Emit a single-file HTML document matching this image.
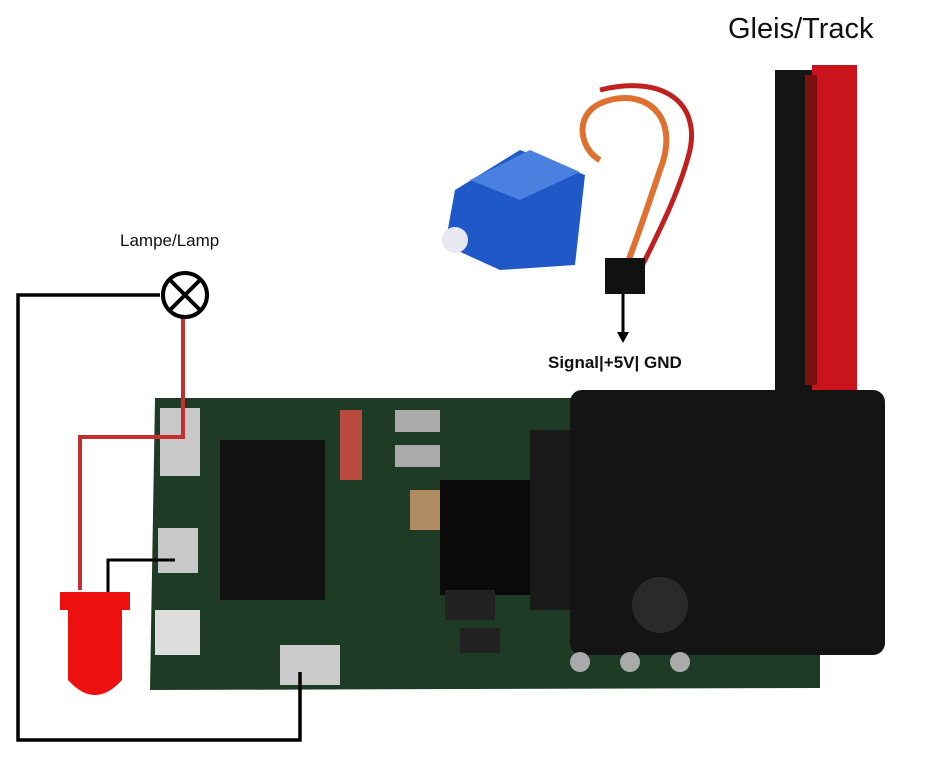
<!DOCTYPE html>
<html><head><meta charset="utf-8"><style>html,body{margin:0;padding:0;background:#fff}svg{display:block}</style></head>
<body>
<svg width="934" height="758" viewBox="0 0 934 758" xmlns="http://www.w3.org/2000/svg">
<rect width="934" height="758" fill="#fff"/>
<text x="728" y="38" font-family="Liberation Sans, sans-serif" font-size="29" fill="#111">Gleis/Track</text>
<text x="120" y="246" font-family="Liberation Sans, sans-serif" font-size="17" fill="#111">Lampe/Lamp</text>
<text x="548" y="368" font-family="Liberation Sans, sans-serif" font-size="17" font-weight="bold" fill="#111">Signal|+5V| GND</text>
<!-- cable -->
<rect x="775" y="70" width="45" height="320" fill="#151515"/>
<rect x="812" y="65" width="45" height="330" fill="#c8141a"/>
<rect x="805" y="75" width="12" height="310" fill="#7a1010"/>
<!-- servo wires -->
<path d="M625 270 C640 230 650 200 660 170 C680 120 650 90 610 100 C570 110 580 150 600 160" stroke="#e07030" stroke-width="6" fill="none"/>
<path d="M640 270 C660 230 680 190 690 150 C700 100 660 75 600 90" stroke="#c02020" stroke-width="5" fill="none"/>
<!-- servo -->
<path d="M455 190 L520 150 L585 175 L575 265 L500 270 L445 245 Z" fill="#2058c8"/>
<path d="M470 180 L530 150 L580 172 L520 200 Z" fill="#4a80e0"/>
<circle cx="455" cy="240" r="13" fill="#e8e8f0"/>
<rect x="605" y="258" width="40" height="36" fill="#111"/>
<line x1="623" y1="294" x2="623" y2="335" stroke="#000" stroke-width="3"/>
<path d="M617 332 L623 343 L629 332 Z" fill="#000"/>
<!-- PCB -->
<path d="M155 398 L585 398 L600 405 L820 400 L820 688 L150 690 Z" fill="#1e3b25"/>
<rect x="160" y="408" width="40" height="68" fill="#c8c8c8"/>
<rect x="158" y="528" width="40" height="45" fill="#c8c8c8"/>
<rect x="155" y="610" width="45" height="45" fill="#ddd"/>
<rect x="220" y="440" width="105" height="160" fill="#111"/>
<rect x="340" y="410" width="22" height="70" fill="#b84a40"/>
<rect x="395" y="410" width="45" height="22" fill="#aaa"/>
<rect x="395" y="445" width="45" height="22" fill="#aaa"/>
<rect x="410" y="490" width="35" height="40" fill="#b08a60"/>
<rect x="440" y="480" width="90" height="115" fill="#0a0a0a"/>
<rect x="445" y="590" width="50" height="30" fill="#222"/>
<rect x="460" y="628" width="40" height="25" fill="#222"/>
<rect x="280" y="645" width="60" height="40" fill="#ccc"/>
<rect x="530" y="430" width="70" height="180" fill="#1a1a1a"/>
<rect x="570" y="390" width="315" height="265" rx="12" fill="#141414"/>
<circle cx="660" cy="605" r="28" fill="#2a2a2a"/>
<circle cx="580" cy="662" r="10" fill="#aaa"/><circle cx="630" cy="662" r="10" fill="#aaa"/><circle cx="680" cy="662" r="10" fill="#aaa"/>
<!-- wires -->
<polyline points="160,295 18,295 18,740 300,740 300,672" fill="none" stroke="#000" stroke-width="3.5"/>
<polyline points="183,318 183,437 80,437 80,590" fill="none" stroke="#c43030" stroke-width="4"/>
<polyline points="175,560 108,560 108,592" fill="none" stroke="#000" stroke-width="3"/>
<circle cx="185" cy="295" r="22" fill="#fff" stroke="#000" stroke-width="4"/>
<line x1="170" y1="280" x2="200" y2="310" stroke="#000" stroke-width="4"/>
<line x1="200" y1="280" x2="170" y2="310" stroke="#000" stroke-width="4"/>
<!-- LED -->
<path d="M60 592 L130 592 L130 610 L122 610 L122 680 Q95 710 68 680 L68 610 L60 610 Z" fill="#ee1010"/>
</svg>
</body></html>
